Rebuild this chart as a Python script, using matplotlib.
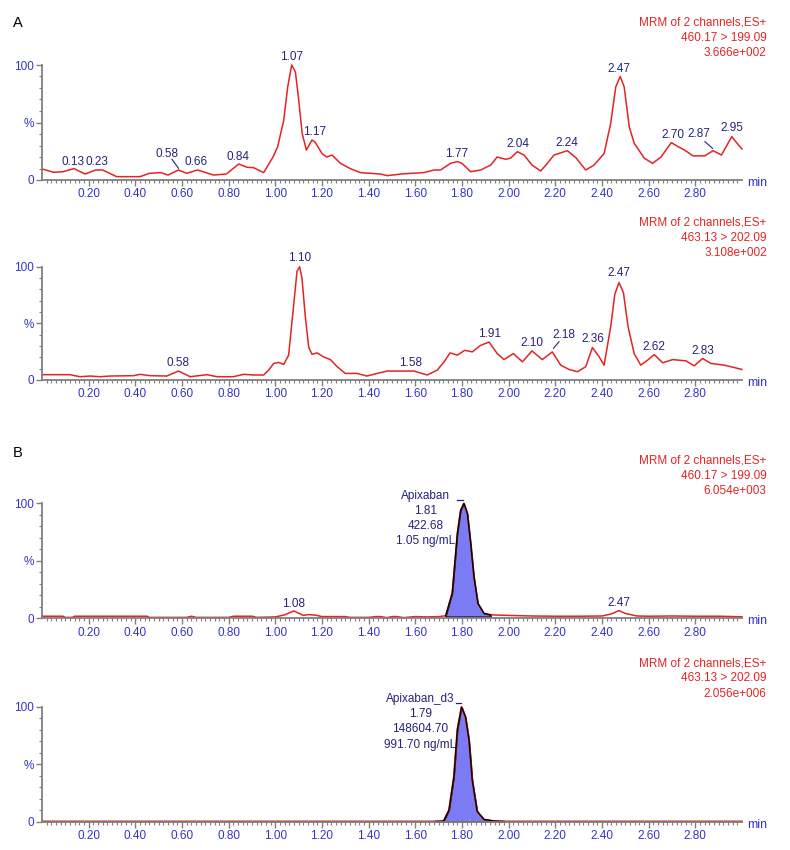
import numpy as np
import matplotlib
matplotlib.use("AGG")
import matplotlib.pyplot as plt
from matplotlib.ticker import MultipleLocator, FixedLocator

plt.rcParams['font.family'] = ['Liberation Sans', 'DejaVu Sans']

# ---- panel A, top trace: 460.17 > 199.09 ----
t1 = [0.00, 0.05, 0.09, 0.137, 0.185, 0.23, 0.26, 0.32, 0.42, 0.46, 0.51, 0.54, 0.585, 0.62,
      0.667, 0.735, 0.79, 0.843, 0.88, 0.907, 0.95, 0.99, 1.01, 1.036, 1.053, 1.07, 1.086,
      1.10, 1.115, 1.133, 1.157, 1.17, 1.20, 1.22, 1.243, 1.279, 1.32, 1.365, 1.45, 1.48,
      1.54, 1.58, 1.637, 1.68, 1.708, 1.751, 1.78, 1.80, 1.837, 1.88, 1.923, 1.951, 1.987,
      2.008, 2.037, 2.066, 2.10, 2.137, 2.166, 2.194, 2.252, 2.29, 2.33, 2.366, 2.409, 2.437,
      2.459, 2.478, 2.495, 2.517, 2.538, 2.581, 2.617, 2.653, 2.697, 2.726, 2.754, 2.79,
      2.84, 2.876, 2.912, 2.956, 2.985, 3.00]
y1 = [9.6, 6.7, 7.2, 9.9, 5.2, 8.7, 8.7, 2.9, 2.9, 5.8, 6.4, 4.3, 8.7, 5.8,
      8.7, 4.3, 5.2, 13.9, 11.0, 10.7, 6.4, 20.0, 29.0, 52.0, 81.0, 100.0, 94.0,
      70.0, 40.6, 26.0, 34.8, 33.0, 23.0, 20.0, 21.7, 14.5, 10.0, 6.4, 5.2, 3.8,
      5.2, 5.8, 6.4, 8.7, 8.7, 14.5, 16.0, 14.5, 7.2, 8.7, 13.0, 20.0, 18.0,
      19.0, 24.6, 21.7, 13.0, 7.8, 14.5, 21.7, 25.5, 19.0, 8.7, 13.0, 23.0, 49.0,
      81.0, 90.0, 81.0, 46.0, 32.0, 19.0, 14.5, 20.0, 32.5, 29.0, 26.0, 21.0,
      21.0, 25.5, 21.7, 37.7, 30.4, 27.0]
lab1 = ["0.13", "0.23", "0.58", "0.66", "0.84", "1.07", "1.17", "1.77", "2.04", "2.24",
        "2.47", "2.70", "2.87", "2.95"]

# ---- panel A, bottom trace: 463.13 > 202.09 ----
t2 = [0.00, 0.12, 0.163, 0.206, 0.249, 0.292, 0.392, 0.42, 0.464, 0.535, 0.585, 0.635,
      0.707, 0.75, 0.82, 0.864, 0.907, 0.95, 0.971, 0.993, 1.014, 1.036, 1.057, 1.076,
      1.093, 1.104, 1.114, 1.129, 1.143, 1.157, 1.179, 1.207, 1.236, 1.265, 1.30, 1.35,
      1.393, 1.436, 1.48, 1.537, 1.594, 1.651, 1.694, 1.723, 1.749, 1.78, 1.812, 1.844,
      1.88, 1.916, 1.951, 1.98, 2.02, 2.059, 2.10, 2.144, 2.187, 2.223, 2.259, 2.295,
      2.33, 2.359, 2.388, 2.409, 2.437, 2.455, 2.473, 2.492, 2.512, 2.538, 2.566, 2.595,
      2.624, 2.66, 2.703, 2.76, 2.795, 2.831, 2.867, 2.924, 2.967, 3.00]
y2 = [4.7, 4.7, 2.9, 3.5, 2.9, 3.5, 3.8, 5.0, 3.8, 3.5, 7.9, 2.9,
      4.7, 2.9, 2.9, 5.0, 4.4, 4.4, 8.7, 14.6, 15.5, 13.7, 21.9, 61.0,
      96.0, 100.0, 90.0, 55.0, 29.0, 22.7, 23.9, 20.4, 18.0, 11.7, 5.8, 5.8,
      3.5, 5.8, 7.9, 7.9, 7.9, 4.4, 8.7, 16.0, 23.9, 21.9, 26.2, 24.8,
      30.6, 33.5, 23.3, 18.0, 23.3, 16.0, 25.7, 18.0, 24.8, 13.1, 9.3, 7.3,
      11.7, 28.6, 20.4, 13.1, 46.6, 75.8, 86.0, 77.0, 46.6, 23.3, 13.1, 17.5,
      22.4, 15.2, 18.0, 16.9, 12.5, 19.0, 14.6, 13.1, 11.0, 9.3]
lab2 = ["0.58", "1.10", "1.58", "1.91", "2.10", "2.18", "2.36", "2.47", "2.62", "2.83"]

# ---- panel B, top trace: Apixaban ----
t3 = [0.00, 0.09, 0.10, 0.13, 0.14, 0.45, 0.46, 0.62, 0.64, 0.66, 0.80, 0.82, 0.85,
      0.90, 0.92, 1.00, 1.04, 1.079, 1.12, 1.14, 1.17, 1.20, 1.30, 1.32, 1.40, 1.43,
      1.45, 1.48, 1.50, 1.52, 1.55, 1.60, 1.65, 1.70, 1.73, 1.758, 1.78, 1.794, 1.808,
      1.823, 1.837, 1.851, 1.868, 1.894, 1.923, 2.00, 2.10, 2.20, 2.30, 2.40, 2.44,
      2.473, 2.50, 2.55, 2.60, 2.70, 2.80, 2.90, 3.00]
y3 = [1.8, 1.8, 0.8, 0.8, 1.8, 1.8, 0.8, 0.8, 1.8, 0.8, 0.8, 1.8, 1.8,
      1.8, 0.8, 1.2, 3.0, 6.4, 2.5, 3.2, 2.8, 1.5, 1.5, 0.8, 0.8, 1.5,
      1.5, 0.6, 1.5, 1.5, 0.6, 1.5, 1.2, 1.5, 2.2, 22.0, 74.0, 94.0, 100.0,
      91.0, 65.0, 36.0, 13.0, 4.3, 3.0, 2.5, 2.0, 1.8, 1.8, 2.0, 3.8,
      6.7, 4.2, 2.0, 1.8, 2.0, 1.8, 1.8, 1.3]
lab3 = ["1.08", "2.47"]
peak3 = ["Apixaban", "1.81", "422.68", "1.05 ng/mL"]

# ---- panel B, bottom trace: Apixaban_d3 ----
t4 = [0.00, 1.687, 1.715, 1.722, 1.744, 1.765, 1.78, 1.798, 1.815, 1.83, 1.844, 1.865,
      1.894, 1.937, 1.98, 3.00]
y4 = [0.3, 0.3, 0.5, 1.0, 10.0, 39.0, 80.0, 100.0, 91.0, 71.0, 36.0, 9.0,
      2.0, 0.6, 0.3, 0.3]
peak4 = ["Apixaban_d3", "1.79", "148604.70", "991.70 ng/mL"]

headers = [["MRM of 2 channels,ES+", "460.17 > 199.09", "3.666e+002"],
           ["MRM of 2 channels,ES+", "463.13 > 202.09", "3.108e+002"],
           ["MRM of 2 channels,ES+", "460.17 > 199.09", "6.054e+003"],
           ["MRM of 2 channels,ES+", "463.13 > 202.09", "2.056e+006"]]

# label positions (time, %)
pos1 = [(0.133, 15.7), (0.236, 15.7), (0.536, 22.6), (0.661, 15.7), (0.841, 20), (1.069, 107),
        (1.167, 41.7), (1.777, 22.6), (2.039, 31.3), (2.249, 32), (2.472, 96.5), (2.704, 39),
        (2.815, 40), (2.957, 45)]
pos2 = [(0.584, 15), (1.104, 108), (1.579, 14.7), (1.916, 41), (2.10, 32.4), (2.235, 39.7),
        (2.359, 36), (2.473, 94), (2.624, 29.4), (2.831, 25.6)]
pos3 = [(1.079, 12.4), (2.473, 13.6)]

W, H = 790, 850
red = '#e42422'
blue = '#3333cc'
navy = '#23237a'
grey = '#808080'
fsz = 8.5

fig = plt.figure(figsize=(7.9, 8.5), dpi=100)

# (y pixel of 0 %, y pixel of 100 %, header top)
rows = [(180, 65, 16.5), (380, 266.7, 216.5), (618.3, 503.3, 454.5), (821.7, 706.7, 657)]
axes = []
for (p0, p100, ht), hd in zip(rows, headers):
    ax = fig.add_axes([42 / W, 1 - p0 / H, 700 / W, (p0 - p100) / H])
    ax.set_xlim(0, 3.0)
    ax.set_ylim(0, 100)
    for s in ['top', 'right']:
        ax.spines[s].set_visible(False)
    for s in ['left', 'bottom']:
        ax.spines[s].set_color(grey)
        ax.spines[s].set_linewidth(1.3)
    ax.xaxis.set_major_locator(FixedLocator(np.arange(0.2, 2.81, 0.2)))
    ax.set_xticklabels(["%.2f" % v for v in np.arange(0.2, 2.81, 0.2)])
    ax.xaxis.set_minor_locator(FixedLocator(np.arange(0.02, 2.99, 0.02)))
    ax.yaxis.set_major_locator(FixedLocator([0, 50, 100]))
    ax.set_yticklabels(['0', '%', '100'])
    ax.yaxis.set_minor_locator(MultipleLocator(10))
    ax.tick_params(which='major', length=4, width=1, color=grey, labelsize=fsz,
                   labelcolor=blue, pad=2)
    ax.tick_params(which='minor', length=2.5, width=0.8, color=grey)
    ax.text(1.007, -0.025, 'min', transform=ax.transAxes, ha='left', va='center',
            fontsize=fsz + 0.5, color=blue)
    fig.text(766.7 / W, 1 - ht / H, "\n".join(hd), ha='right', va='top', fontsize=fsz,
             color=red, linespacing=1.38, multialignment='right')
    axes.append(ax)

ax1, ax2, ax3, ax4 = axes

ax1.plot(t1, y1, color=red, lw=1.1, clip_on=False)
for s, (x, y) in zip(lab1, pos1):
    ax1.text(x, y, s, ha='center', va='center', fontsize=fsz, color=navy)
ax1.plot([0.557, 0.585], [18, 10.2], color=navy, lw=0.8)
ax1.plot([2.841, 2.874], [33.3, 27.5], color=navy, lw=0.8)

ax2.plot(t2, y2, color=red, lw=1.1, clip_on=False)
for s, (x, y) in zip(lab2, pos2):
    ax2.text(x, y, s, ha='center', va='center', fontsize=fsz, color=navy)
ax2.plot([2.192, 2.216], [28, 33.8], color=navy, lw=0.8)

t3a, y3a = np.array(t3), np.array(y3)
m3 = (t3a >= 1.73) & (t3a <= 1.923)
ax3.plot(t3, y3, color=red, lw=1.1, clip_on=False)
ax3.fill_between(t3a[m3], 1.5, y3a[m3], facecolor='#7b7bf4', edgecolor='black', lw=0.9)
ax3.plot(t3a[m3], y3a[m3], color='black', lw=0.9)
for s, (x, y) in zip(lab3, pos3):
    ax3.text(x, y, s, ha='center', va='center', fontsize=fsz, color=navy)
ax3.text(1.644, 86.6, "\n".join(peak3), ha='center', va='center', fontsize=fsz,
         color=navy, linespacing=1.35)
ax3.plot([1.780, 1.806], [102.9, 102.9], color=navy, lw=0.9, clip_on=False)

t4a, y4a = np.array(t4), np.array(y4)
m4 = (t4a >= 1.687) & (t4a <= 1.98)
ax4.plot(t4, y4, color=red, lw=1.3, clip_on=False)
ax4.fill_between(t4a[m4], 0.3, y4a[m4], facecolor='#7b7bf4', edgecolor='black', lw=0.9)
ax4.plot(t4a[m4], y4a[m4], color='black', lw=0.9)
ax4.text(1.622, 86.8, "\n".join(peak4), ha='center', va='center', fontsize=fsz,
         color=navy, linespacing=1.35)
ax4.plot([1.773, 1.797], [103.5, 103.5], color=navy, lw=0.9, clip_on=False)

fig.text(18 / W, 1 - 23 / H, "A", ha='center', va='center', fontsize=10.5)
fig.text(18 / W, 1 - 453 / H, "B", ha='center', va='center', fontsize=10.5)

fig.savefig("out.png", dpi=100)
